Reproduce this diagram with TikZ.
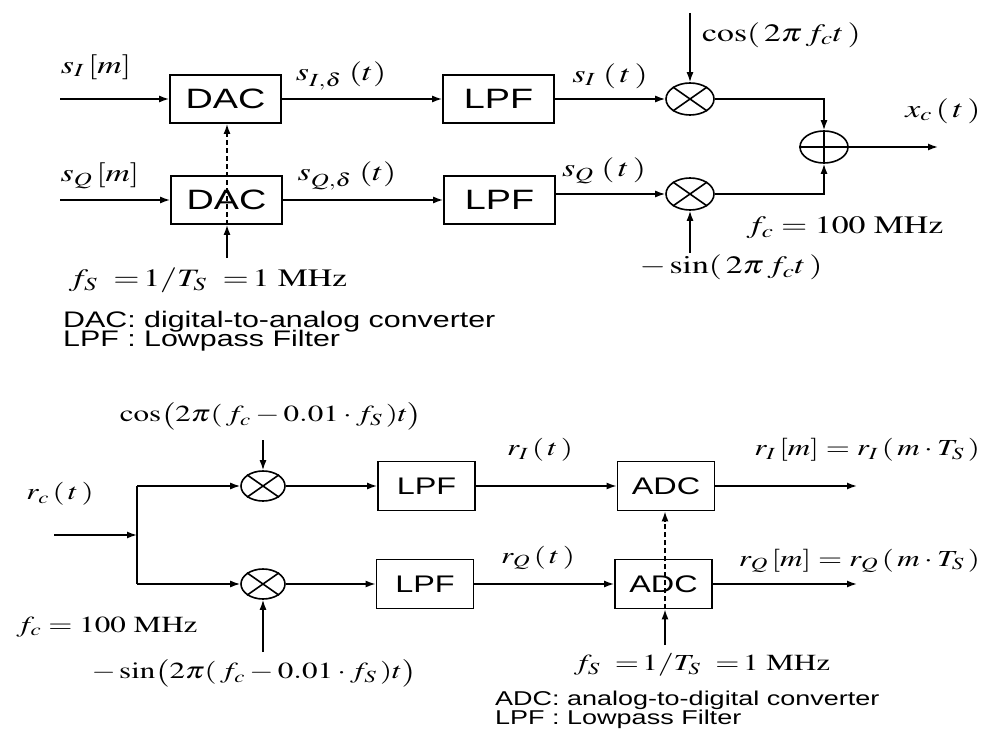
\documentclass[tikz,border=0pt]{standalone}
\usepackage{mathptmx}
\usepackage{fontspec}
\setmainfont{Liberation Serif}
\setsansfont{Liberation Sans}
\usetikzlibrary{arrows.meta,shapes.geometric}
\newcommand\hsc[1]{\scalebox{1.35}[1]{#1}}
\tikzset{
 blk/.style={draw, line width=1.8pt, minimum width=111pt, minimum height=48pt, inner sep=0pt, font=\sffamily\fontsize{28}{28}\selectfont},
 blkB/.style={blk, minimum width=97pt, minimum height=49pt, font=\sffamily\fontsize{24}{24}\selectfont},
 mix/.style={draw, ellipse, line width=1.6pt, minimum width=48pt, minimum height=32pt, inner sep=0pt},
 mixB/.style={mix, minimum width=44pt, minimum height=30pt},
 wire/.style={line width=1.5pt},
 arr/.style={wire, -{Latex[length=10pt,width=7pt]}},
 clk/.style={arr, dash pattern=on 5pt off 3pt},
 tm/.style={inner sep=0pt, font=\fontsize{25}{27}\selectfont},
 bm/.style={inner sep=0pt, font=\fontsize{23}{25}\selectfont},
 leg/.style={inner sep=0pt, anchor=base west, font=\sffamily\fontsize{22.5}{24}\selectfont},
}
\begin{document}
\begin{tikzpicture}[x=1pt,y=-1pt]
\fill[white] (0,0) rectangle (983,733);
\useasboundingbox (0,0) rectangle (983,733);

% ---------------- transmitter ----------------
\node[blk] (dac1) at (225.5,99) {\hsc{DAC}};
\node[blk] (dac2) at (226.5,200) {\hsc{DAC}};
\node[blk] (lpf1) at (498.5,99) {\hsc{LPF}};
\node[blk] (lpf2) at (499.5,200) {\hsc{LPF}};
\node[mix] (mI) at (690,99) {};
\node[mix] (mQ) at (690,194) {};
\node[mix, minimum width=48pt, minimum height=32pt] (add) at (824,147) {};

\coordinate (inI) at (60,99);
\coordinate (inQ) at (60,200);
\coordinate (clk1) at (227,258);
\coordinate (loI) at (690,13);
\coordinate (loQ) at (690,253);
\coordinate (xout) at (938,147);

\draw[arr] (inI) -- (dac1);
\draw[arr] (inQ) -- (dac2);
\draw[arr] (dac1) -- (lpf1);
\draw[arr] (dac2) -- (lpf2);
\draw[arr] (lpf1) -- (mI);
\draw[arr] (lpf2.east |- mQ) -- (mQ.west);
\draw[arr] (loI) -- (mI.north);
\draw[arr] (loQ) -- (mQ.south);
\draw[arr] (mI.east) -| (add.north);
\draw[arr] (mQ.east) -| (add.south);
\draw[arr] (add) -- (xout);
\draw[arr] (clk1) -- (clk1 |- dac2.south);
\draw[clk] (clk1 |- dac2.south) -- (clk1 |- dac1.south);

\foreach \m in {mI,mQ} {\draw[line width=1.6pt] (\m.35) -- (\m.215) (\m.145) -- (\m.325);}
\draw[line width=1.6pt] (add.north) -- (add.south) (add.west) -- (add.east);

\node[tm] (lsI) at (96,67) {\hsc{$s_I\,[m]$}};
\node[tm] (lsQ) at (100,176) {\hsc{$s_Q\,[m]$}};
\node[tm] (lsId) at (341,76) {\hsc{$s_{I,\delta}\;(t)$}};
\node[tm] (lsQd) at (347,176) {\hsc{$s_{Q,\delta}\;(t)$}};
\node[tm] (lsIt) at (610,76) {\hsc{$s_I\;(\,t\,)$}};
\node[tm] (lsQt) at (604,171) {\hsc{$s_Q\;(\,t\,)$}};
\node[tm, anchor=west] (lcos) at (702,35) {\hsc{$\cos(\,2\pi\, f_c t\,)$}};
\node[tm] (lsin) at (731,267) {\hsc{$-\sin(\,2\pi\, f_c t\,)$}};
\node[tm] (lxc) at (943,111) {\hsc{$x_c\,(\,t\,)$}};
\node[tm] (lfc) at (845,228) {\hsc{$f_c=100\ \mathrm{MHz}$}};
\node[tm] (lfs) at (208,280) {\hsc{$f_S\ \;{=}\,1/T_S\ \;{=}\,1\ \mathrm{MHz}$}};
\node[leg] (leg1) at (63,327) {\hsc{DAC: digital-to-analog converter}};
\node[leg] (leg2) at (63,346) {\hsc{LPF : Lowpass Filter}};

% ---------------- receiver ----------------
\node[mixB] (mBI) at (263,486) {};
\node[mixB] (mBQ) at (263,584) {};
\node[blkB] (lpf3) at (426.5,486) {\hsc{LPF}};
\node[blkB] (lpf4) at (425,584) {\hsc{LPF}};
\node[blkB] (adc1) at (666,486) {\hsc{ADC}};
\node[blkB] (adc2) at (663.5,584) {\hsc{ADC}};

\coordinate (rin) at (54,535);
\coordinate (br) at (137,535);
\coordinate (loBI) at (263,440);
\coordinate (loBQ) at (263,652);
\coordinate (oI) at (857,486);
\coordinate (oQ) at (857,584);
\coordinate (clk2) at (665,645);

\draw[arr] (rin) -- (br);
\draw[wire] (br |- mBI) -- (br |- mBQ);
\draw[arr] (br |- mBI) -- (mBI.west);
\draw[arr] (br |- mBQ) -- (mBQ.west);
\draw[arr] (loBI) -- (mBI.north);
\draw[arr] (loBQ) -- (mBQ.south);
\draw[arr] (mBI) -- (lpf3);
\draw[arr] (mBQ) -- (lpf4);
\draw[arr] (lpf3) -- (adc1);
\draw[arr] (lpf4) -- (adc2);
\draw[arr] (adc1) -- (oI);
\draw[arr] (adc2) -- (oQ);
\draw[arr] (clk2) -- (clk2 |- adc2.south);
\draw[clk] (clk2 |- adc2.south) -- (clk2 |- adc1.south);

\foreach \m in {mBI,mBQ} {\draw[line width=1.6pt] (\m.35) -- (\m.215) (\m.145) -- (\m.325);}

\node[bm] (lcosB) at (271,416) {\hsc{$\cos\bigl(2\pi(\,f_c-0.01\cdot f_S\,)t\bigr)$}};
\node[bm] (lsinB) at (254,673) {\hsc{$-\sin\bigl(2\pi(\,f_c-0.01\cdot f_S\,)t\bigr)$}};
\node[bm] (lrc) at (60,494) {\hsc{$r_c\,(\,t\,)$}};
\node[bm] (lfcB) at (107,627) {\hsc{$f_c=100\ \mathrm{MHz}$}};
\node[bm] (lrI) at (540,450) {\hsc{$r_I\,(\,t\,)$}};
\node[bm] (lrQ) at (538,558) {\hsc{$r_Q\,(\,t\,)$}};
\node[bm, anchor=east] (lrIm) at (980,450) {\hsc{$r_I\,[m]=r_I\,(\,m\cdot T_S\,)$}};
\node[bm, anchor=east] (lrQm) at (980,561) {\hsc{$r_Q\,[m]=r_Q\,(\,m\cdot T_S\,)$}};
\node[bm] (lfsB) at (702,665) {\hsc{$f_S\ \;{=}\,1/T_S\ \;{=}\,1\ \mathrm{MHz}$}};
\node[leg, font=\sffamily\fontsize{20}{22}\selectfont] (leg3) at (495,705) {\hsc{ADC: analog-to-digital converter}};
\node[leg, font=\sffamily\fontsize{20}{22}\selectfont] (leg4) at (495,724) {\hsc{LPF : Lowpass Filter}};
\end{tikzpicture}
\end{document}
